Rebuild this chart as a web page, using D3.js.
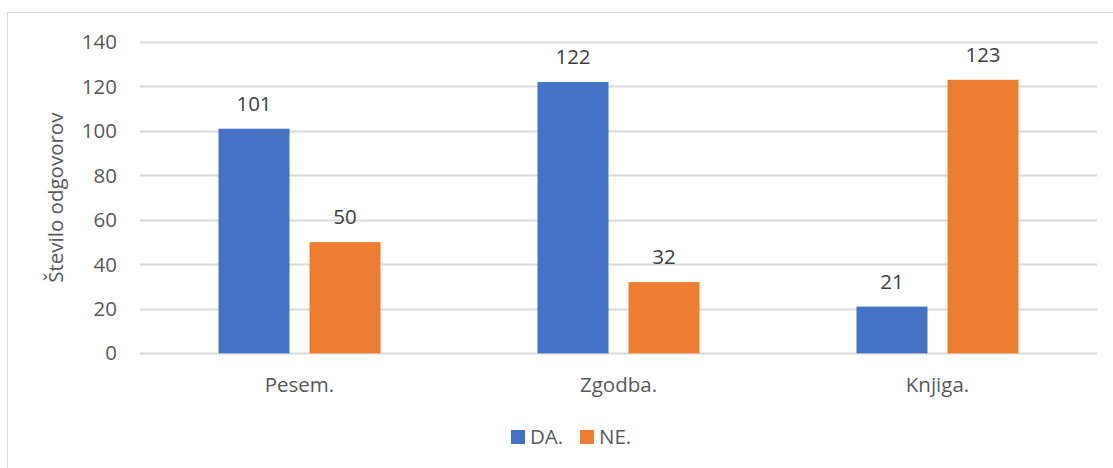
<!DOCTYPE html>
<html>
<head>
<meta charset="utf-8">
<script src="https://cdn.jsdelivr.net/npm/d3@7"></script>
<style>
  body { margin: 0; background: #fff; }
  text { font-family: "Open Sans", "Noto Sans", sans-serif; }
</style>
</head>
<body>
<div id="chart"></div>
<script>
var categories = ["Pesem.", "Zgodba.", "Knjiga."];
var seriesNames = ["DA.", "NE."];
var daValues = [101, 122, 21];
var neValues = [50, 32, 123];
var yTicks = [0, 20, 40, 60, 80, 100, 120, 140];
var colors = ["#4472C4", "#ED7D31"];

var width = 1113, height = 468;
var margin = { top: 42, right: 16, bottom: 115, left: 140 };
var fontSize = "20.5px";

var svg = d3.select("#chart").append("svg")
  .attr("width", width)
  .attr("height", height);

// chart frame (cropped at right and bottom)
svg.append("rect")
  .attr("x", 7.5).attr("y", 12.5)
  .attr("width", width + 10).attr("height", height + 10)
  .attr("fill", "none")
  .attr("stroke", "#d9d9d9")
  .attr("stroke-width", 1);

var x = d3.scaleBand()
  .domain(categories)
  .range([margin.left, width - margin.right])
  .paddingInner(0)
  .paddingOuter(0);

var y = d3.scaleLinear()
  .domain([0, 140])
  .range([height - margin.bottom + 0.3, margin.top]);

var xInner = d3.scaleBand()
  .domain(seriesNames)
  .range([78.5, x.bandwidth() - 78.5])
  .paddingInner(0.22);

// gridlines
svg.append("g")
  .selectAll("line")
  .data(yTicks)
  .enter().append("line")
  .attr("x1", margin.left)
  .attr("x2", width - margin.right)
  .attr("y1", function(d) { return Math.round(y(d)) + 0.5; })
  .attr("y2", function(d) { return Math.round(y(d)) + 0.5; })
  .attr("stroke", "#d9d9d9")
  .attr("stroke-width", 2);

// y tick labels
svg.append("g")
  .selectAll("text")
  .data(yTicks)
  .enter().append("text")
  .attr("x", 117)
  .attr("y", function(d) { return y(d); })
  .attr("dy", "0.35em")
  .attr("text-anchor", "end")
  .attr("font-size", fontSize)
  .attr("fill", "#595959")
  .text(function(d) { return d; });

// y axis title
svg.append("text")
  .attr("transform", "translate(63," + ((margin.top + y(0)) / 2) + ") rotate(-90)")
  .attr("text-anchor", "middle")
  .attr("font-size", fontSize)
  .attr("fill", "#595959")
  .text("Število odgovorov");

var rows = categories.map(function(c, i) {
  return { cat: c, vals: [daValues[i], neValues[i]] };
});

var groups = svg.append("g")
  .selectAll("g")
  .data(rows)
  .enter().append("g")
  .attr("transform", function(d) { return "translate(" + x(d.cat) + ",0)"; });

groups.selectAll("rect")
  .data(function(d) { return d.vals.map(function(v, j) { return { s: seriesNames[j], v: v, j: j }; }); })
  .enter().append("rect")
  .attr("x", function(d) { return xInner(d.s); })
  .attr("width", xInner.bandwidth())
  .attr("y", function(d) { return y(d.v); })
  .attr("height", function(d) { return y(0) - y(d.v); })
  .attr("fill", function(d) { return colors[d.j]; });

groups.selectAll("text.val")
  .data(function(d) { return d.vals.map(function(v, j) { return { s: seriesNames[j], v: v }; }); })
  .enter().append("text")
  .attr("class", "val")
  .attr("x", function(d) { return xInner(d.s) + xInner.bandwidth() / 2; })
  .attr("y", function(d) { return y(d.v) - 18; })
  .attr("text-anchor", "middle")
  .attr("font-size", fontSize)
  .attr("fill", "#404040")
  .text(function(d) { return d.v; });

// category labels
svg.append("g")
  .selectAll("text")
  .data(categories)
  .enter().append("text")
  .attr("x", function(d) { return x(d) + x.bandwidth() / 2; })
  .attr("y", 392)
  .attr("text-anchor", "middle")
  .attr("font-size", fontSize)
  .attr("fill", "#595959")
  .text(function(d) { return d; });

// legend
var legendX = [511, 580];
var legend = svg.append("g")
  .selectAll("g")
  .data(seriesNames)
  .enter().append("g")
  .attr("transform", function(d, i) { return "translate(" + legendX[i] + ",430)"; });

legend.append("rect")
  .attr("width", 14).attr("height", 14)
  .attr("fill", function(d, i) { return colors[i]; });

legend.append("text")
  .attr("x", 19)
  .attr("y", 7)
  .attr("dy", "0.35em")
  .attr("font-size", fontSize)
  .attr("fill", "#595959")
  .text(function(d) { return d; });
</script>
</body>
</html>
